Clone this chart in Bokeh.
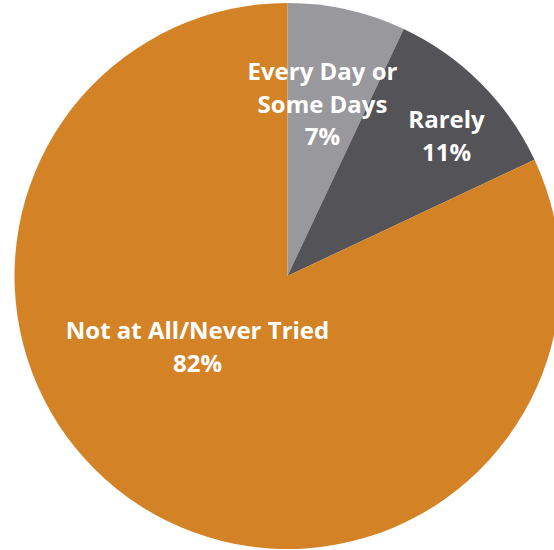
import math
from bokeh.plotting import figure
from bokeh.models import Range1d, ColumnDataSource
from bokeh.core.properties import value
from bokeh.embed import file_html
from bokeh.resources import INLINE

# ---- data ----
categories = ["Every Day or\nSome Days", "Rarely", "Not at All/Never Tried"]
percents = [7, 11, 82]
colors = ["#99989d", "#545358", "#d38326"]

# ---- layout (pixel positions, y measured from top) ----
W, H = 554, 550
cx, cy, radius = 287, 275.5, 273
label_cx = [322, 446, 197]
label_first_baseline = [70, 118, 329]
line_step = 32.5
font_size = "24px"

p = figure(width=W, height=H, output_backend="svg", toolbar_location=None,
           x_range=Range1d(0, W), y_range=Range1d(0, H),
           x_axis_location=None, y_axis_location=None, min_border=0)
p.grid.visible = False
p.outline_line_color = None
p.background_fill_color = "white"

total = sum(percents)
starts, ends = [], []
cum = 0.0
for v in percents:
    a0 = math.pi / 2 - 2 * math.pi * cum / total
    cum += v
    a1 = math.pi / 2 - 2 * math.pi * cum / total
    starts.append(a1)
    ends.append(a0)

src = ColumnDataSource(dict(x=[cx] * len(percents), y=[H - cy] * len(percents),
                            start=starts, end=ends, color=colors))
p.wedge(x="x", y="y", radius=radius, start_angle="start", end_angle="end",
        direction="anticlock", fill_color="color", line_color=None, source=src)

tx, ty, tt = [], [], []
for i, (cat, pct) in enumerate(zip(categories, percents)):
    lines = cat.split("\n") + [f"{pct}%"]
    for j, ln in enumerate(lines):
        tx.append(label_cx[i])
        ty.append(H - (label_first_baseline[i] + j * line_step))
        tt.append(ln)

p.text(x=tx, y=ty, text=tt, text_align="center", text_baseline="alphabetic",
       text_font=value("Open Sans"), text_font_style="bold",
       text_font_size=font_size, text_color="white")

open("out.html", "w").write(file_html(p, INLINE))
